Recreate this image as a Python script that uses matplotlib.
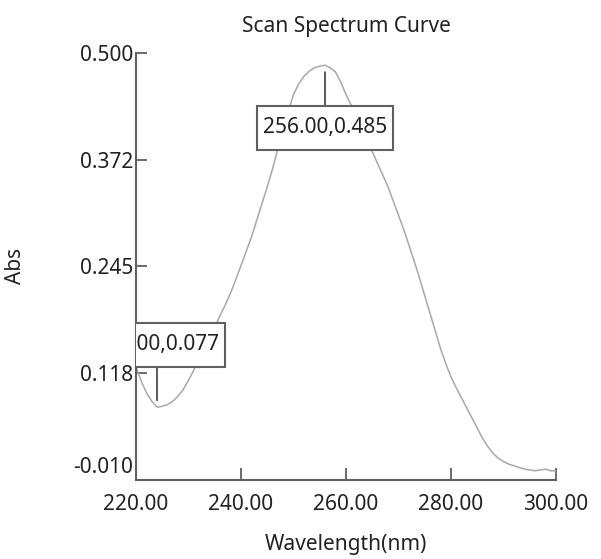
import numpy as np
import matplotlib
matplotlib.use("Agg")
import matplotlib.pyplot as plt
import matplotlib.transforms as mtransforms
from matplotlib.path import Path

plt.rcParams['font.family'] = ['Noto Sans', 'DejaVu Sans']

# Data (1 nm steps)
wavelength = list(range(220, 301))
absorbance = [0.125, 0.108, 0.094, 0.084, 0.077, 0.078, 0.080, 0.084, 0.090, 0.098,
              0.109, 0.121, 0.134, 0.147, 0.160, 0.173, 0.186, 0.199, 0.213, 0.229,
              0.246, 0.263, 0.280, 0.300, 0.320, 0.340, 0.361, 0.385, 0.408, 0.430,
              0.450, 0.463, 0.472, 0.478, 0.482, 0.484, 0.485, 0.482, 0.477, 0.465,
              0.450, 0.437, 0.424, 0.410, 0.396, 0.382, 0.368, 0.354, 0.340, 0.323,
              0.306, 0.289, 0.270, 0.251, 0.231, 0.210, 0.189, 0.168, 0.147, 0.129,
              0.113, 0.100, 0.088, 0.076, 0.064, 0.052, 0.040, 0.030, 0.022, 0.016,
              0.012, 0.009, 0.007, 0.005, 0.003, 0.002, 0.001, 0.002, 0.003, 0.001,
              0.001]

x_ticks = [220, 240, 260, 280, 300]
x_tick_labels = ["220.00", "240.00", "260.00", "280.00", "300.00"]
y_tick_labels = ["-0.010", "0.118", "0.245", "0.372", "0.500"]
y_min, y_max = -0.010, 0.500

peaks = [(256.0, 0.485, "256.00,0.485", -1), (224.0, 0.077, "224.00,0.077", 1)]


def label_box(x0, y0, width, height, mutation_size):
    px = 0.3 * mutation_size
    py = 0.55 * mutation_size
    x0, y0 = x0 - px, y0 - py
    x1, y1 = x0 + width + 2 * px, y0 + height + 2 * py
    return Path([(x0, y0), (x1, y0), (x1, y1), (x0, y1), (x0, y0)],
                closed=True)


fig = plt.figure(figsize=(6.01, 5.59), dpi=100)
ax = fig.add_axes([136/601, (559-480)/559, 420/601, 427.3/559])

ax.plot(wavelength, absorbance, color='#a8a8a8', lw=1.1, zorder=2)

ax.set_xlim(220, 300)
ax.set_ylim(y_min, y_max)

for s in ['top', 'right']:
    ax.spines[s].set_visible(False)
for s in ['left', 'bottom']:
    ax.spines[s].set_color('#606060')
    ax.spines[s].set_linewidth(1.5)

ax.set_xticks(x_ticks)
ax.set_xticklabels(x_tick_labels)
ax.set_yticks(np.linspace(y_min, y_max, 5))
ax.set_yticklabels(y_tick_labels)
ax.tick_params(axis='x', direction='in', length=9, width=1.3, color='#606060',
               labelsize=15, labelcolor='#222222', pad=10)
ax.tick_params(axis='y', direction='in', length=8, width=1.3, color='#606060',
               labelsize=15, labelcolor='#222222', pad=2)

# raise the lowest y label like the reference
lbl = ax.get_yticklabels()[0]
lbl.set_transform(lbl.get_transform() + mtransforms.ScaledTranslation(0, 15/100, fig.dpi_scale_trans))

for px, py, txt, direction in peaks:
    ann = ax.annotate(txt, xy=(px, py), xytext=(0, direction * 45), textcoords='offset points',
                      ha='center', va='center', fontsize=15, color='#222222',
                      bbox=dict(boxstyle=label_box, fc='white', ec='#606060', lw=1.5),
                      arrowprops=dict(arrowstyle='-', color='#606060', lw=1.5,
                                      shrinkA=0, shrinkB=5),
                      annotation_clip=False, zorder=5)
    ann.set_clip_on(True)
    ann.set_clip_path(ax.patch)

ax.set_title("Scan Spectrum Curve", fontsize=15, color='#222222', pad=15)
ax.set_xlabel("Wavelength(nm)", fontsize=15, color='#222222', labelpad=14)
ax.set_ylabel("Abs", fontsize=15, color='#222222', labelpad=34)

fig.savefig("out.png", dpi=100)
